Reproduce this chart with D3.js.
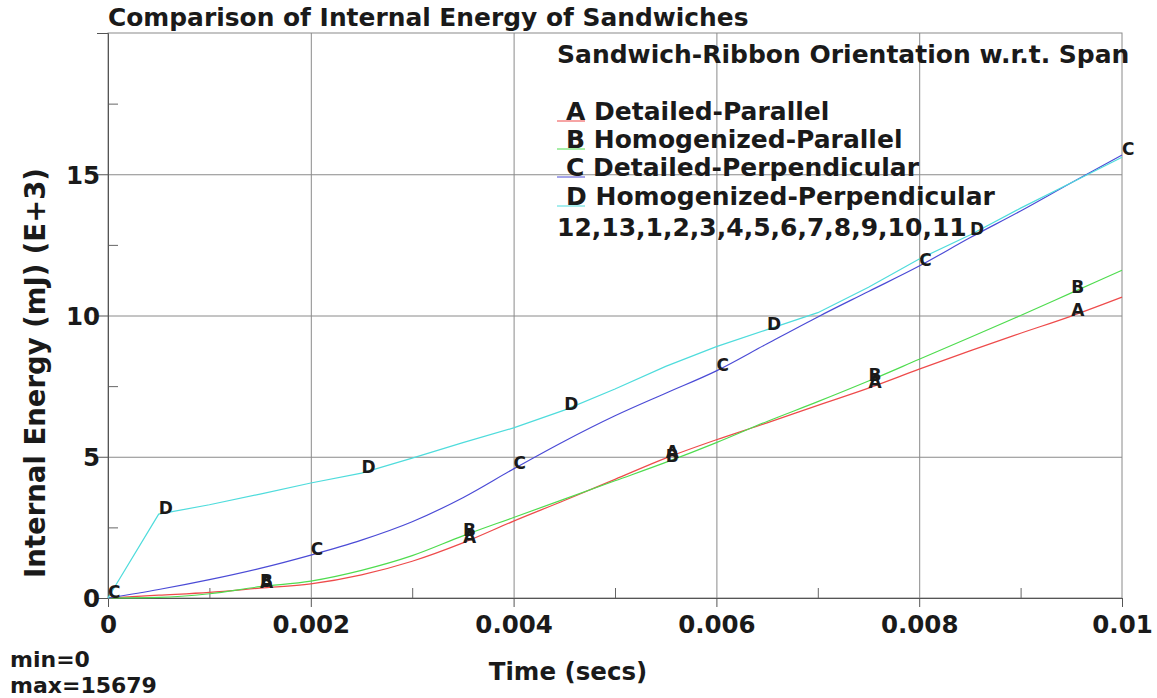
<!DOCTYPE html>
<html>
<head>
<meta charset="utf-8">
<script src="https://cdn.jsdelivr.net/npm/d3@7/dist/d3.min.js"></script>
<style>
	body { margin: 0; background: #fff; }
	text { font-family: "DejaVu Sans", Verdana, sans-serif; font-weight: bold; fill: #1a1a1a; }
</style>
</head>
<body>
<div id="chart"></div>
<script>
	// time samples (secs) and internal energy values (mJ, E+3)
	var times = [0, 0.0005, 0.001, 0.0015, 0.002, 0.0025, 0.003, 0.0035, 0.004, 0.0045, 0.005,
		0.0055, 0.006, 0.0065, 0.007, 0.0075, 0.008, 0.0085, 0.009, 0.0095, 0.01];
	var detailedParallel = [0, 0.1, 0.2, 0.35, 0.5, 0.82, 1.3, 1.95, 2.72, 3.45, 4.2,
		4.95, 5.6, 6.2, 6.82, 7.43, 8.1, 8.75, 9.37, 9.98, 10.65];
	var homogenizedParallel = [0, 0.02, 0.15, 0.4, 0.6, 0.98, 1.5, 2.2, 2.85, 3.5, 4.15,
		4.8, 5.5, 6.25, 6.95, 7.68, 8.45, 9.22, 10.0, 10.8, 11.6];
	var detailedPerpendicular = [0, 0.3, 0.65, 1.05, 1.52, 2.05, 2.7, 3.55, 4.57, 5.55, 6.45,
		7.25, 8.04, 9.0, 9.95, 10.85, 11.75, 12.75, 13.7, 14.7, 15.679];
	var homogenizedPerpendicular = [0, 2.97, 3.3, 3.68, 4.07, 4.42, 4.95, 5.5, 6.02, 6.65, 7.4,
		8.2, 8.9, 9.5, 10.1, 11.0, 12.0, 12.85, 13.8, 14.7, 15.6];

	var seriesKeys = ['A', 'B', 'C', 'D'];
	var seriesNames = ['Detailed-Parallel', 'Homogenized-Parallel', 'Detailed-Perpendicular', 'Homogenized-Perpendicular'];
	var seriesValues = [detailedParallel, homogenizedParallel, detailedPerpendicular, homogenizedPerpendicular];
	// which samples carry the curve letter
	var labelIndex = [[3, 7, 11, 15, 19], [3, 7, 11, 15, 19], [0, 4, 8, 12, 16, 20], [1, 5, 9, 13, 17]];
	var colors = ['#ee4b4b', '#4fdc4f', '#4b4bd6', '#4fdcdc'];

	var xMajor = [0, 0.002, 0.004, 0.006, 0.008, 0.01];
	var xMinor = [0.001, 0.003, 0.005, 0.007, 0.009];
	var yMajor = [0, 5, 10, 15];
	var yMinor = [2.5, 7.5, 12.5, 17.5];

	var width = 1157, height = 698;
	var margin = { top: 33, right: 35, bottom: 100, left: 108 };
	var plotW = width - margin.left - margin.right;
	var plotH = height - margin.top - margin.bottom;

	var x = d3.scaleLinear().domain([0, 0.01]).range([0, plotW]);
	var y = d3.scaleLinear().domain([0, 20]).range([plotH, 0]);

	var svg = d3.select('#chart').append('svg')
		.attr('width', width).attr('height', height);

	svg.append('text')
		.attr('x', 108).attr('y', 26)
		.style('font-size', '24.9px')
		.text('Comparison of Internal Energy of Sandwiches');

	var g = svg.append('g')
		.attr('transform', 'translate(' + margin.left + ',' + margin.top + ')');

	// frame
	g.append('rect')
		.attr('width', plotW).attr('height', plotH)
		.attr('fill', 'none').attr('stroke', '#8a8a8a');

	// grid lines
	g.append('g')
		.attr('transform', 'translate(0,' + plotH + ')')
		.call(d3.axisBottom(x).tickValues(xMajor.slice(1, -1)).tickSize(-plotH).tickFormat(''))
		.call(a => a.select('.domain').remove())
		.selectAll('line').attr('stroke', '#8a8a8a');
	g.append('g')
		.call(d3.axisLeft(y).tickValues(yMajor.slice(1)).tickSize(-plotW).tickFormat(''))
		.call(a => a.select('.domain').remove())
		.selectAll('line').attr('stroke', '#8a8a8a');

	// minor ticks pointing inside
	g.append('g')
		.attr('transform', 'translate(0,' + plotH + ')')
		.call(d3.axisBottom(x).tickValues(xMinor).tickSize(-10).tickFormat(''))
		.call(a => a.select('.domain').remove())
		.selectAll('line').attr('stroke', '#666');
	g.append('g')
		.call(d3.axisLeft(y).tickValues(yMinor).tickSize(-10).tickFormat(''))
		.call(a => a.select('.domain').remove())
		.selectAll('line').attr('stroke', '#666');

	// main axes
	var xAxis = g.append('g')
		.attr('transform', 'translate(0,' + plotH + ')')
		.call(d3.axisBottom(x).tickValues(xMajor).tickSize(9).tickFormat(d => d === 0 ? '0' : d3.format('.3~f')(d)));
	xAxis.select('.domain').attr('stroke', '#555');
	xAxis.selectAll('line').attr('stroke', '#555');
	xAxis.selectAll('text')
		.attr('y', 35).attr('dy', null)
		.attr('fill', '#1a1a1a')
		.style('font-size', '24.5px');

	var yAxis = g.append('g')
		.call(d3.axisLeft(y).tickValues(yMajor).tickSize(11));
	yAxis.select('.domain').attr('stroke', '#555');
	yAxis.selectAll('line').attr('stroke', '#555');
	yAxis.selectAll('text')
		.attr('x', -8).attr('dy', '0.36em')
		.attr('fill', '#1a1a1a')
		.style('font-size', '24.5px');

	// axis titles
	svg.append('text')
		.attr('transform', 'translate(45,373) rotate(-90)')
		.attr('text-anchor', 'middle')
		.style('font-size', '27.5px')
		.text('Internal Energy (mJ) (E+3)');
	svg.append('text')
		.attr('x', 568).attr('y', 680)
		.attr('text-anchor', 'middle')
		.style('font-size', '24.5px')
		.text('Time (secs)');

	svg.append('text').attr('x', 10).attr('y', 667).style('font-size', '22px').text('min=0');
	svg.append('text').attr('x', 10).attr('y', 693).style('font-size', '22px').text('max=15679');

	// curves: smooth for A-C, D keeps its sharp corner
	var smoothLine = d3.line()
		.x((d, i) => x(times[i]))
		.y(d => y(d))
		.curve(d3.curveMonotoneX);
	var straightLine = d3.line()
		.x((d, i) => x(times[i]))
		.y(d => y(d));

	g.selectAll('path.curve')
		.data(seriesValues)
		.enter().append('path')
		.attr('class', 'curve')
		.attr('fill', 'none')
		.attr('stroke', (d, i) => colors[i])
		.attr('stroke-width', 1.2)
		.attr('d', (d, i) => i === 3 ? straightLine(d) : smoothLine(d));

	// curve letters
	seriesValues.forEach((vals, s) => {
		g.selectAll('text.lbl' + s)
			.data(labelIndex[s])
			.enter().append('text')
			.attr('class', 'lbl' + s)
			.attr('x', i => x(times[i]))
			.attr('y', i => y(vals[i]))
			.style('font-size', '17px')
			.text(seriesKeys[s]);
	});

	// legend
	var legend = svg.append('g');
	legend.append('text')
		.attr('x', 557).attr('y', 63)
		.style('font-size', '25px')
		.text('Sandwich-Ribbon Orientation w.r.t. Span');

	var rowY = [120, 148, 176, 205];
	var rows = legend.selectAll('g.row')
		.data(seriesKeys)
		.enter().append('g')
		.attr('class', 'row')
		.attr('transform', (d, i) => 'translate(0,' + rowY[i] + ')');
	rows.append('line')
		.attr('x1', 557).attr('x2', 585)
		.attr('y1', 1).attr('y2', 1)
		.attr('stroke', (d, i) => colors[i]);
	rows.append('text')
		.attr('x', 566)
		.style('font-size', '25px')
		.text((d, i) => d + ' ' + seriesNames[i]);

	legend.append('text')
		.attr('x', 557).attr('y', 236)
		.style('font-size', '25px')
		.text('12,13,1,2,3,4,5,6,7,8,9,10,11');
</script>
</body>
</html>
